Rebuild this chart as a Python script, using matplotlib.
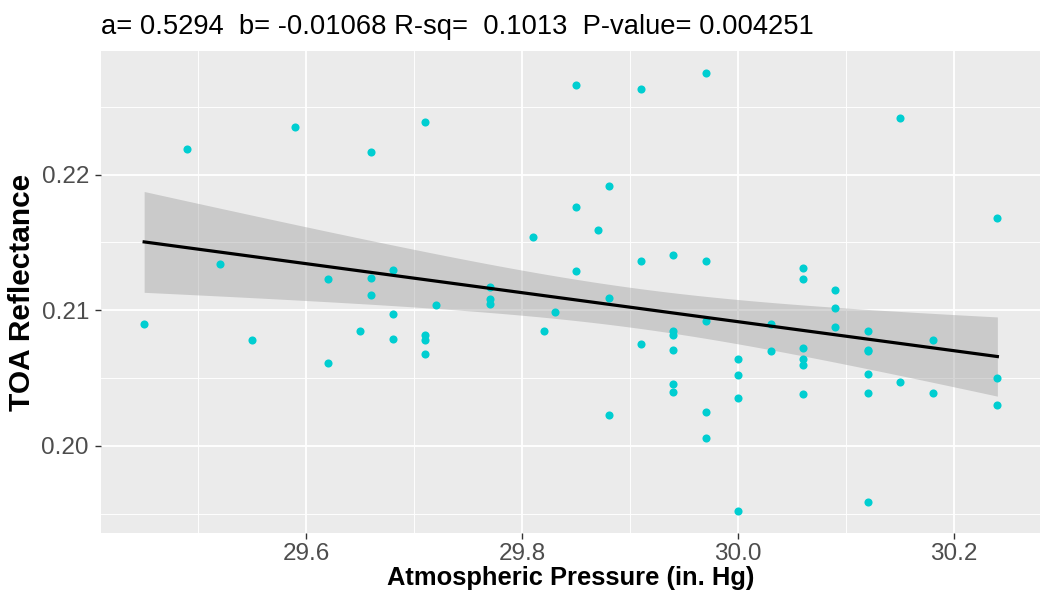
import numpy as np
import matplotlib
matplotlib.use("Agg")
import matplotlib.pyplot as plt
from matplotlib.ticker import MultipleLocator

plt.rcParams['font.family'] = ['Liberation Sans', 'DejaVu Sans']

pressure = [29.49, 29.59, 29.52, 29.62, 29.45, 29.55, 29.62,
            29.66, 29.71, 29.81, 29.66, 29.68, 29.66, 29.77, 29.77, 29.77,
            29.72, 29.68, 29.65, 29.68, 29.71, 29.71, 29.71, 29.82, 29.83,
            29.85, 29.91, 29.97, 29.88, 29.85, 29.87, 29.85, 29.91, 29.94, 29.97, 29.88,
            29.94, 29.94, 29.94, 29.91, 29.97, 30.00, 30.00, 30.00, 29.94, 29.94,
            29.88, 29.97, 29.97, 30.00, 30.03, 30.03,
            30.15, 30.24, 30.06, 30.06, 30.09, 30.09, 30.09, 30.06, 30.06, 30.06, 30.06,
            30.12, 30.12, 30.12, 30.12, 30.12, 30.12, 30.15, 30.18, 30.18, 30.24, 30.24]
reflectance = [0.2219, 0.2235, 0.2134, 0.2123, 0.2090, 0.2078, 0.2061,
               0.2217, 0.2239, 0.2154, 0.2124, 0.2130, 0.2111, 0.2117, 0.2108, 0.2105,
               0.2104, 0.2097, 0.2085, 0.2079, 0.2082, 0.2078, 0.2068, 0.2085, 0.2099,
               0.2266, 0.2263, 0.2275, 0.2192, 0.2176, 0.2159, 0.2129, 0.2136, 0.2141, 0.2136, 0.2109,
               0.2085, 0.2082, 0.2071, 0.2075, 0.2092, 0.2064, 0.2052, 0.2035, 0.2046, 0.2040,
               0.2023, 0.2025, 0.2006, 0.1952, 0.2090, 0.2070,
               0.2242, 0.2168, 0.2131, 0.2123, 0.2115, 0.2102, 0.2088, 0.2072, 0.2064, 0.2060, 0.2038,
               0.2085, 0.2071, 0.2070, 0.2053, 0.2039, 0.1959, 0.2047, 0.2078, 0.2039, 0.2050, 0.2030]

title_text = "a= 0.5294  b= -0.01068 R-sq=  0.1013  P-value= 0.004251"
x_ticks = [29.6, 29.8, 30.0, 30.2]
y_ticks = [0.20, 0.21, 0.22]

x = np.array(pressure)
y = np.array(reflectance)

fig = plt.figure(figsize=(10.42, 6.0), dpi=100)
ax = fig.add_axes([0.0974, 0.1117, 0.9007, 0.8033])
ax.set_facecolor('#EBEBEB')

# regression line and 95% CI band
n = len(x)
b, a = np.polyfit(x, y, 1)
xs = np.linspace(x.min(), x.max(), 100)
yhat = a + b * xs
resid = y - (a + b * x)
s = np.sqrt(np.sum(resid ** 2) / (n - 2))
sxx = np.sum((x - x.mean()) ** 2)
se = s * np.sqrt(1.0 / n + (xs - x.mean()) ** 2 / sxx)
tval = 1.994
ax.fill_between(xs, yhat - tval * se, yhat + tval * se, color='#999999', alpha=0.4,
                linewidth=0, zorder=2)
ax.scatter(x, y, s=34, color='#00CED1', linewidths=0, zorder=3)
ax.plot(xs, yhat, color='black', linewidth=2.3, zorder=4)

xr = x.max() - x.min()
yr = y.max() - y.min()
ax.set_xlim(x.min() - 0.05 * xr, x.max() + 0.05 * xr)
ax.set_ylim(y.min() - 0.05 * yr, y.max() + 0.05 * yr)

ax.set_xticks(x_ticks)
ax.set_xticklabels([f"{v:.1f}" for v in x_ticks])
ax.set_yticks(y_ticks)
ax.set_yticklabels([f"{v:.2f}" for v in y_ticks])
ax.xaxis.set_minor_locator(MultipleLocator(0.1))
ax.yaxis.set_minor_locator(MultipleLocator(0.005))
ax.grid(which='major', color='white', linewidth=1.3, zorder=0)
ax.grid(which='minor', color='white', linewidth=0.65, zorder=0)
ax.set_axisbelow(True)
for sp in ax.spines.values():
    sp.set_visible(False)
ax.tick_params(which='major', length=4, width=1, color='#333333',
               labelsize=17.5, labelcolor='#4D4D4D', pad=3)
ax.tick_params(axis='y', which='major', pad=5)
ax.tick_params(which='minor', length=0)

ax.set_xlabel('Atmospheric Pressure (in. Hg)', fontsize=18.4, fontweight='bold', labelpad=1)
ax.set_ylabel('TOA Reflectance', fontsize=21.5, fontweight='bold', labelpad=4)
ax.set_title(title_text, loc='left', fontsize=19.7, pad=12, x=0.0)

fig.savefig('out.png', dpi=100)
